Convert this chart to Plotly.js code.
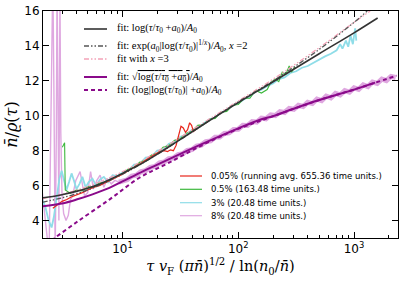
<!DOCTYPE html>
<html>
<head>
<meta charset="utf-8">
<script src="https://cdn.plot.ly/plotly-3.0.1.min.js"></script>
<style>html,body{margin:0;padding:0;background:#fff;}#chart{width:405px;height:288px;}</style>
</head>
<body>
<div id="chart"></div>
<script>
// ---- fit curves ----
const blackX = [2.03, 2.5, 3, 4, 5, 6.3, 7.7, 10, 12.5, 15, 20, 30, 50, 100, 200, 500, 1000, 1600];
const blackY = [5.30, 5.38, 5.48, 5.67, 5.85, 6.08, 6.34, 6.70, 7.03, 7.30, 7.80, 8.55, 9.50, 10.75, 11.95, 13.55, 14.75, 15.60];

const grayX = [2.03, 3, 5, 10, 20, 50, 100, 200, 500, 1000, 1300];
const grayY = [5.05, 5.30, 5.75, 6.65, 7.80, 9.50, 10.80, 12.00, 13.80, 15.35, 16.0];

const pinkX = [2.03, 3, 5, 10, 20, 50, 100, 200, 500, 1000, 1380];
const pinkY = [5.25, 5.50, 5.95, 6.80, 7.95, 9.60, 10.85, 12.10, 13.90, 15.35, 16.0];

const sqrtX = [2.03, 3, 4, 5.5, 7.7, 10, 15, 20, 30, 50, 100, 154, 200, 300, 500, 1000, 1520];
const sqrtY = [4.82, 4.98, 5.20, 5.50, 5.87, 6.24, 6.82, 7.20, 7.75, 8.42, 9.28, 9.77, 9.98, 10.40, 10.90, 11.50, 11.90];

const loglogX = [2.45, 2.6, 4, 7.7, 14, 25, 50, 100, 200, 500, 1000, 2340];
const loglogY = [2.85, 3.0, 3.9, 5.2, 6.45, 7.3, 8.35, 9.25, 9.97, 10.9, 11.5, 12.3];

// ---- simulation data ----
const redX = [2.5, 2.65, 2.8, 3.0, 3.3, 3.6, 4.0, 4.5, 5, 5.6, 6.3, 7, 8, 9, 10, 11.5, 13, 15, 17, 19, 21, 23, 24.5, 26, 27.5, 29, 30.5, 32, 33.5, 35, 36.5, 38, 39.5, 41, 42.5, 44];
const redY = [4.70, 4.85, 4.95, 5.10, 5.20, 5.35, 5.45, 5.60, 5.75, 5.90, 6.00, 6.15, 6.35, 6.50, 6.65, 6.90, 7.10, 7.35, 7.60, 7.80, 7.95, 8.00, 7.95, 8.05, 8.00, 8.30, 8.90, 9.40, 9.30, 9.05, 9.20, 9.60, 9.45, 9.10, 9.20, 9.25];

const greenX = [3.02, 3.16, 3.20, 3.55, 3.98, 4.47, 5.01, 5.62, 6.31, 7.08, 7.94, 8.91, 10, 11.22, 12.59, 14.13, 15.85, 17.78, 19.95, 22.39, 25.12, 28.18, 31.62, 35.48, 39.81, 44.67, 50.12, 56.23, 63.1, 70.79, 79.43, 89.13, 100, 112.2, 125.9, 141.3, 158.5, 177.8, 190.5, 208.9, 223.9, 239.9, 257.0, 275.4, 288.4, 309.0];
const greenY = [8.2, 8.45, 5.75, 5.55, 5.75, 5.7, 5.95, 5.9, 6.15, 6.2, 6.35, 6.55, 6.7, 6.95, 7.05, 7.35, 7.45, 7.75, 7.85, 8.2, 8.3, 8.6, 8.7, 9.0, 9.1, 9.45, 9.5, 9.8, 9.85, 10.2, 10.25, 10.6, 10.65, 11.0, 11.0, 11.45, 11.3, 11.5, 11.9, 12.1, 11.95, 12.5, 12.35, 12.85, 12.5, 12.8];

const cyanX = [2.03, 2.15, 2.3, 2.44, 2.55, 2.7, 2.85, 2.98, 3.12, 3.28, 3.45, 3.63, 3.8, 4.0, 4.25, 4.5, 4.8, 5.1, 5.5, 5.9, 6.4, 6.9, 7.5, 8.2, 9.0, 10.0,
  11.22, 12.59, 14.13, 15.85, 17.78, 19.95, 22.39, 25.12, 28.18, 31.62, 35.48, 39.81, 44.67, 50.12, 56.23, 63.1, 70.79, 79.43, 89.13, 100, 112.2, 125.9, 141.3, 158.5, 177.8, 199.5, 223.9, 251.2, 281.8, 316.2, 354.8, 398.1, 446.7, 501.2, 562.3, 631.0, 707.9, 758.6, 794.3, 851.1, 891.3, 933.3, 977.2, 1023, 1047];
const cyanY = [5.2, 4.8, 4.0, 3.6, 4.2, 5.4, 6.4, 6.85, 6.3, 5.75, 6.2, 6.7, 6.3, 5.8, 6.1, 6.5, 5.9, 6.2, 6.4, 6.0, 6.35, 6.5, 6.2, 6.6, 6.55, 6.75,
  6.85, 7.2, 7.25, 7.6, 7.65, 8.0, 8.05, 8.4, 8.5, 8.8, 8.9, 9.2, 9.3, 9.55, 9.8, 9.9, 10.2, 10.3, 10.6, 10.7, 10.95, 11.1, 11.4, 11.5, 11.7, 11.85, 12.1, 12.2, 12.45, 12.55, 12.75, 12.85, 13.05, 13.2, 13.4, 13.55, 13.75, 14.1, 13.85, 14.3, 13.95, 14.6, 14.1, 15.0, 14.3];

// 8% run: wild oscillation at small tau, then a band along the sqrt fit
const plumX = [2.03, 2.12, 2.22, 2.32, 2.45, 2.5, 2.55, 2.62, 2.68, 2.72, 2.76, 2.82, 2.88, 2.93, 3.0, 3.1, 3.25, 3.4, 3.55, 3.7, 3.95, 4.3, 4.7, 5.0, 5.3, 5.6, 6.0, 6.4, 6.9, 7.4, 8.0, 8.6, 9.3];
const plumY = [5.6, 4.6, 3.2, 2.0, 14, 18, 12, 2.0, 9, 18, 12, 4, 17, 9, 5.5, 4.4, 4.0, 4.3, 5.2, 5.4, 6.3, 6.8, 5.4, 5.6, 6.8, 5.8, 6.3, 6.6, 5.9, 6.4, 6.1, 6.3, 6.2];
const plumBandX = [9.3, 10.0, 10.96, 12.02, 13.18, 14.45, 15.85, 17.38, 19.05, 20.89, 22.91, 25.12, 27.54, 30.20, 33.11, 36.31, 39.81, 43.65, 47.86, 52.48, 57.54, 63.10, 69.18, 75.86, 83.18, 91.20, 100, 109.6, 120.2, 131.8, 144.5, 158.5, 173.8, 190.5, 208.9, 229.1, 251.2, 275.4, 302.0, 331.1, 363.1, 398.1, 436.5, 478.6, 524.8, 575.4, 631.0, 691.8, 758.6, 831.8, 912.0, 1000, 1096, 1202, 1318, 1445, 1585, 1738, 1905, 2089, 2291];
const plumBandY = [6.2, 6.28, 6.33, 6.55, 6.6, 6.8, 6.86, 7.05, 7.1, 7.3, 7.35, 7.55, 7.58, 7.78, 7.82, 8.02, 8.06, 8.27, 8.32, 8.52, 8.56, 8.77, 8.78, 8.99, 9.02, 9.22, 9.23, 9.45, 9.44, 9.67, 9.64, 9.87, 9.83, 10.05, 10.01, 10.24, 10.19, 10.42, 10.37, 10.6, 10.53, 10.77, 10.7, 10.95, 10.87, 11.12, 11.03, 11.28, 11.19, 11.44, 11.35, 11.6, 11.51, 11.77, 11.67, 11.93, 11.85, 12.1, 12.01, 12.25, 12.19];

// ---- ticks ----
const xTickVals = [10, 100, 1000];
const xTickText = ['10<sup>1</sup>', '10<sup>2</sup>', '10<sup>3</sup>'];
const xMinorVals = [3, 4, 5, 6, 7, 8, 9, 20, 30, 40, 50, 60, 70, 80, 90, 200, 300, 400, 500, 600, 700, 800, 900, 2000];
const yTickVals = [4, 6, 8, 10, 12, 14, 16];

// ---- legend labels ----
const fitLabels = [
  'fit: log(<i>τ</i>/<i>τ</i><sub>0</sub> +<i>a</i><sub>0</sub>)/<i>A</i><sub>0</sub>',
  'fit: exp(<i>a</i><sub>0</sub>|log(<i>τ</i>/<i>τ</i><sub>0</sub>)|<sup>1/<i>x</i></sup>)/<i>A</i><sub>0</sub>, <i>x</i> =2',
  'fit with <i>x</i> =3',
  'fit: √<span style="text-decoration:overline">log(<i>τ</i>/<i>τ</i><sub>0</sub> +<i>a</i><sub>0</sub>)</span>/<i>A</i><sub>0</sub>',
  'fit: (log|log(<i>τ</i>/<i>τ</i><sub>0</sub>)| +<i>a</i><sub>0</sub>)/<i>A</i><sub>0</sub>'
];
const dataLabels = [
  '0.05% (running avg. 655.36 time units.)',
  '0.5% (163.48 time units.)',
  '3% (20.48 time units.)',
  '8% (20.48 time units.)'
];

const C = {
  black: '#333333', gray: '#555555', pink: '#f4a3b8', purple: '#8a0a8a',
  red: '#e8261c', green: '#3db83d', cyan: '#8fdde8', plum: '#dfa8e0'
};
const dashDotDot = '5px,2px,1.5px,2px,1.5px,2px';

const traces = [
  {x: plumX, y: plumY, name: dataLabels[3], mode: 'lines', line: {color: C.plum, width: 1.4}},
  {x: plumBandX, y: plumBandY, name: dataLabels[3], mode: 'lines', line: {color: C.plum, width: 5}},
  {x: cyanX, y: cyanY, name: dataLabels[2], mode: 'lines', line: {color: C.cyan, width: 1.8}},
  {x: greenX, y: greenY, name: dataLabels[1], mode: 'lines', line: {color: C.green, width: 1.1}},
  {x: redX, y: redY, name: dataLabels[0], mode: 'lines', line: {color: C.red, width: 1.2}},
  {x: pinkX, y: pinkY, name: fitLabels[2], mode: 'lines', line: {color: C.pink, width: 1.3, dash: dashDotDot, shape: 'spline'}},
  {x: grayX, y: grayY, name: fitLabels[1], mode: 'lines', line: {color: C.gray, width: 1.3, dash: dashDotDot, shape: 'spline'}},
  {x: blackX, y: blackY, name: fitLabels[0], mode: 'lines', line: {color: C.black, width: 1.6, shape: 'spline'}},
  {x: loglogX, y: loglogY, name: fitLabels[4], mode: 'lines', line: {color: C.purple, width: 2, dash: '4px,3px', shape: 'spline'}},
  {x: sqrtX, y: sqrtY, name: fitLabels[3], mode: 'lines', line: {color: C.purple, width: 2, shape: 'spline'}}
];
traces.forEach(t => { t.showlegend = false; t.hoverinfo = 'skip'; });

// manual legends (paper coords)
const L0 = 43, W = 355, B = 238, H = 227;
const px = v => (v - L0) / W;
const py = v => (B - v) / H;
const shapes = [];
const annotations = [];
const fitRows = [29, 46, 59, 77, 90];
const fitStyles = [
  {color: C.black, width: 1.6},
  {color: C.gray, width: 1.3, dash: dashDotDot},
  {color: C.pink, width: 1.3, dash: dashDotDot},
  {color: C.purple, width: 2},
  {color: C.purple, width: 2, dash: '4px,3px'}
];
fitRows.forEach((r, i) => {
  shapes.push({type: 'line', xref: 'paper', yref: 'paper', x0: px(84), x1: px(107), y0: py(r), y1: py(r), line: fitStyles[i]});
  annotations.push({xref: 'paper', yref: 'paper', x: px(115), y: py(r), xanchor: 'left', yanchor: 'middle', showarrow: false,
    text: fitLabels[i], font: {family: 'Liberation Serif, serif', size: 10.5, color: '#000'}});
});
const dataRows = [176, 189.3, 202.7, 215.7];
const dataColors = [C.red, C.green, C.cyan, C.plum];
dataRows.forEach((r, i) => {
  shapes.push({type: 'line', xref: 'paper', yref: 'paper', x0: px(180), x1: px(202), y0: py(r), y1: py(r), line: {color: dataColors[i], width: 1.2}});
  annotations.push({xref: 'paper', yref: 'paper', x: px(209), y: py(r), xanchor: 'left', yanchor: 'middle', showarrow: false,
    text: dataLabels[i], font: {family: 'DejaVu Sans, sans-serif', size: 8.5, color: '#000'}});
});

const layout = {
  width: 405, height: 288,
  margin: {l: 43, r: 7, t: 11, b: 50},
  paper_bgcolor: '#fff', plot_bgcolor: '#fff',
  showlegend: false,
  xaxis: {
    type: 'log', range: [0.313, 3.38],
    tickvals: xTickVals, ticktext: xTickText,
    ticks: 'inside', ticklen: 6, tickwidth: 1, tickcolor: '#000',
    minor: {tickvals: xMinorVals, ticks: 'inside', ticklen: 3, tickwidth: 1, tickcolor: '#000', showgrid: false},
    mirror: 'ticks', showline: true, linecolor: '#000', linewidth: 1,
    showgrid: false, zeroline: false,
    tickfont: {family: 'DejaVu Sans, sans-serif', size: 12, color: '#000'},
    title: {text: '<i>τ</i> <i>v</i><sub>F</sub> (<i>πn̄</i>)<sup>1/2</sup> / ln(<i>n</i><sub>0</sub>/<i>n̄</i>)', standoff: 5,
      font: {family: 'DejaVu Serif, serif', size: 14.5, color: '#000'}}
  },
  yaxis: {
    range: [3, 16], tickvals: yTickVals,
    ticks: 'inside', ticklen: 6, tickwidth: 1, tickcolor: '#000',
    mirror: 'ticks', showline: true, linecolor: '#000', linewidth: 1,
    showgrid: false, zeroline: false,
    tickfont: {family: 'DejaVu Sans, sans-serif', size: 12, color: '#000'},
    title: {text: '<i>n̄</i>/<i>ϱ</i>(<i>τ</i>)', standoff: 2,
      font: {family: 'DejaVu Serif, serif', size: 16, color: '#000'}}
  },
  shapes: shapes,
  annotations: annotations
};

Plotly.newPlot('chart', traces, layout, {staticPlot: true, displayModeBar: false});
</script>
</body>
</html>
